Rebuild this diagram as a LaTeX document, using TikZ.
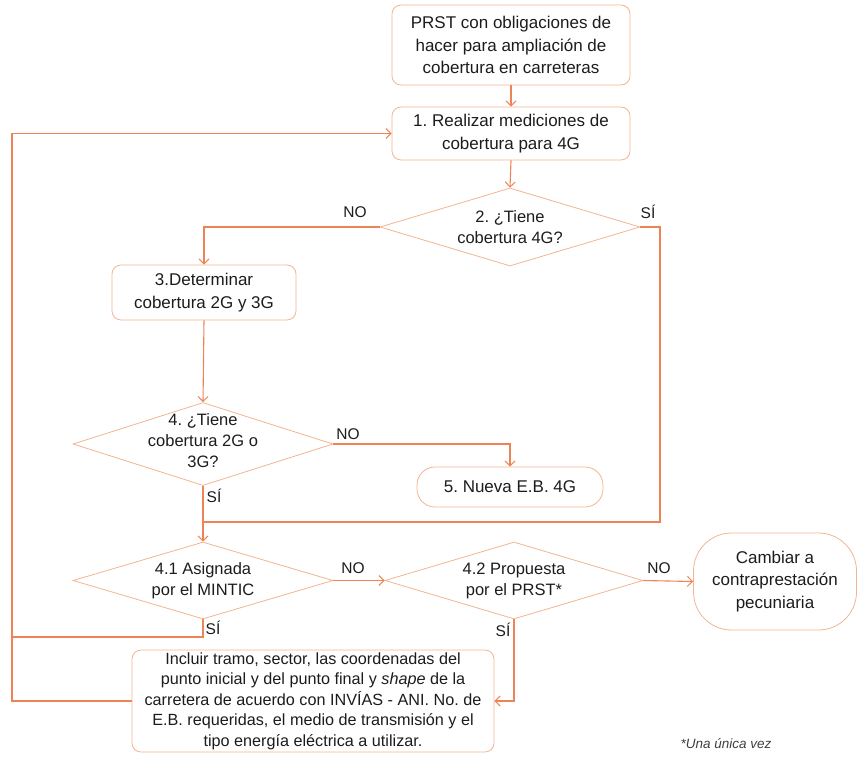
\documentclass[tikz,border=0pt]{standalone}
\usepackage{fontspec}
\setmainfont{Liberation Sans}
\usetikzlibrary{shapes.geometric,arrows.meta}
\definecolor{linec}{RGB}{236,132,88}
\definecolor{boxc}{RGB}{242,180,145}
\definecolor{txtc}{RGB}{28,28,28}
\tikzset{
  box/.style={draw=boxc,line width=0.8pt,rounded corners=9pt,align=center,inner sep=0pt,text=txtc,
    font=\fontsize{17}{22.5}\selectfont},
  dia/.style={draw=boxc,line width=0.8pt,diamond,inner sep=0pt},
  diatext/.style={align=center,text=txtc,font=\fontsize{16.5}{21}\selectfont,inner sep=0pt},
  lab/.style={text=txtc,font=\fontsize{15.5}{18}\selectfont,inner sep=0pt},
  conn/.style={draw=linec,line width=1.1pt},
  arr/.style={conn,-{Straight Barb[length=5pt,width=10pt,line width=1pt]}}
}
\begin{document}
\frenchspacing
\begin{tikzpicture}[x=1pt,y=-1pt]
\useasboundingbox (0,0) rectangle (858,758);
% nodes
\node[box,minimum width=238,minimum height=80] (top) at (511,45) {PRST con obligaciones de\\hacer para ampliación de\\cobertura en carreteras};
\node[box,minimum width=238,minimum height=53] (b1) at (511,133.5) {1. Realizar mediciones de\\cobertura para 4G};
\node[dia,minimum width=260,minimum height=78] (d2) at (510,227) {};
\node[diatext] (d2t) at (d2) {2. ¿Tiene\\cobertura 4G?};
\node[box,minimum width=184,minimum height=55] (b3) at (204,292.5) {3.Determinar\\cobertura 2G y 3G};
\node[dia,minimum width=260,minimum height=83] (d4) at (203,444) {};
\node[diatext] (d4t) at (203,441) {4. ¿Tiene\\cobertura 2G o\\3G?};
\node[box,rounded corners=18pt,minimum width=186,minimum height=40] (b5) at (510,487) {5. Nueva E.B. 4G};
\node[dia,minimum width=260,minimum height=77] (d41) at (203,580.5) {};
\node[diatext] (d41t) at (d41) {4.1 Asignada\\por el MINTIC};
\node[dia,minimum width=258,minimum height=77] (d42) at (514,580.5) {};
\node[diatext] (d42t) at (d42) {4.2 Propuesta\\por el PRST*};
\node[box,rounded corners=38pt,minimum width=163,minimum height=97] (cam) at (775,581.5) {Cambiar a\\contraprestación\\pecuniaria};
\node[box,minimum width=362,minimum height=102,font=\fontsize{16.2}{20.5}\selectfont] (bot) at (313,701)
  {Incluir tramo, sector, las coordenadas del\\punto inicial y del punto final y \textit{shape} de la\\carretera de acuerdo con INVÍAS - ANI. No. de\\E.B. requeridas, el medio de transmisión y el\\tipo energía eléctrica a utilizar.};
\node[text=txtc!85,font=\fontsize{13.5}{15}\selectfont\itshape,inner sep=0pt] (foot) at (726,744) {*Una única vez};
% coordinates
\coordinate (r1) at (660,522);
\coordinate (j1) at (203,522);
\coordinate (L0) at (12,133.5);
\coordinate (L1) at (12,637);
% connectors
\draw[arr] (top.south) -- (b1.north);
\draw[arr] (b1.south) -- (d2.north);
\draw[arr] (d2.west) -| (b3.north);
\draw[conn] (d2.east) -| (r1) -- (j1);
\draw[arr] (b3.south) -- (d4.north);
\draw[arr] (d4.east) -| (b5.north);
\draw[arr] (d4.south) -- (d41.north);
\draw[arr] (d41.east) -- (d42.west);
\draw[arr] (d42.east) -- (cam.west);
\draw[arr] (d42.south) |- (bot.east);
\draw[conn] (d41.south) |- (L1);
\draw[arr] (bot.west) -| (L0) -- (b1.west);
% labels
\node[lab] (l1) at (355,212) {NO};
\node[lab] (l2) at (648,212) {SÍ};
\node[lab] (l3) at (348,434) {NO};
\node[lab] (l4) at (214,496) {SÍ};
\node[lab] (l5) at (353,568) {NO};
\node[lab] (l6) at (213,628) {SÍ};
\node[lab] (l7) at (659,568) {NO};
\node[lab] (l8) at (503,630) {SÍ};
\end{tikzpicture}
\end{document}
